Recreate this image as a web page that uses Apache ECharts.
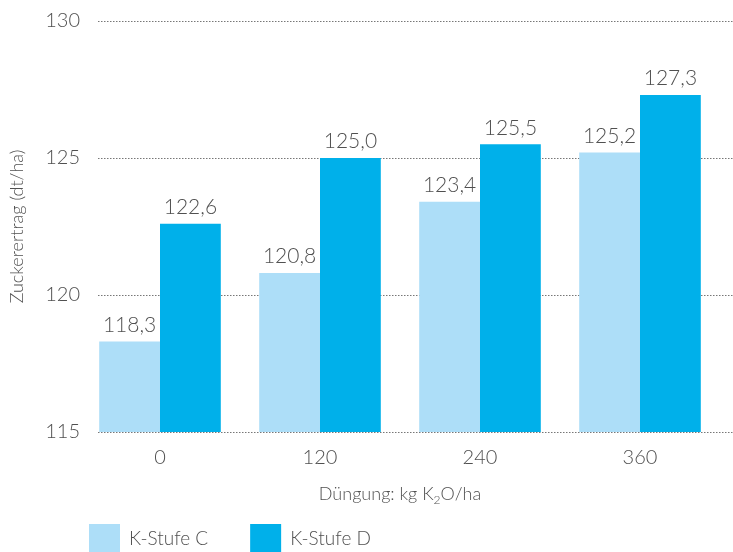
<!DOCTYPE html>
<html>
<head>
<meta charset="utf-8">
<script src="https://cdn.jsdelivr.net/npm/echarts@6/dist/echarts.min.js"></script>
<style>
  html, body { margin: 0; padding: 0; background: #fff; }
  #chart { width: 733px; height: 552px; }
</style>
</head>
<body>
<div id="chart"></div>
<script>
// Zuckerertrag nach K2O-Düngung und K-Stufe
const categories = ['0', '120', '240', '360'];
const stufeC = [118.3, 120.8, 123.4, 125.2];
const stufeD = [122.6, 125.0, 125.5, 127.3];
const seriesNames = ['K-Stufe C', 'K-Stufe D'];
const yTicks = [115, 120, 125, 130];

const FONT = 'Lato, "Open Sans", sans-serif';
const W = 300;
const TEXT = '#505050';

const fmt = v => v.toFixed(1).replace('.', ',');

const chart = echarts.init(document.getElementById('chart'));
chart.setOption({
  animation: false,
  textStyle: { fontFamily: FONT, color: TEXT, fontWeight: W },
  grid: [
    // grid 0 carries the value scale and the dotted guide lines
    { left: 91, right: 0, top: 21, bottom: 120 },
    // grid 1 carries the bars and category labels
    { left: 80, width: 640, top: 21, bottom: 120 }
  ],
  legend: {
    left: 89, top: 524, padding: 0,
    itemWidth: 31, itemHeight: 30, itemGap: 42,
    icon: 'rect',
    textStyle: { fontFamily: FONT, fontWeight: W, fontSize: 19, color: TEXT, padding: [2, 0, 0, 4] },
    data: seriesNames
  },
  xAxis: [
    { gridIndex: 0, type: 'category', data: categories, show: false },
    {
      gridIndex: 1, type: 'category', data: categories,
      axisLine: { show: false }, axisTick: { show: false },
      axisLabel: { fontFamily: FONT, fontWeight: W, fontSize: 20, color: TEXT, margin: 16 },
      name: 'Düngung: kg K{sub|2}O/ha',
      nameLocation: 'middle', nameGap: 50,
      nameTextStyle: {
        fontFamily: FONT, fontWeight: W, fontSize: 18, color: TEXT,
        rich: { sub: { fontFamily: FONT, fontWeight: W, fontSize: 12, color: TEXT, verticalAlign: 'bottom', padding: [12, 0, 0, 0] } }
      }
    }
  ],
  yAxis: [
    {
      gridIndex: 0, type: 'value', min: 115, max: 130, interval: 5,
      axisLine: { show: false }, axisTick: { show: false },
      axisLabel: { fontFamily: FONT, fontWeight: W, fontSize: 20, color: TEXT, margin: 18,
        customValues: yTicks },
      splitLine: { show: true, lineStyle: { color: '#777', width: 1, type: [1.5, 1.5] } },
      name: 'Zuckerertrag (dt/ha)',
      nameLocation: 'middle', nameGap: 72, nameRotate: 90,
      nameTextStyle: { fontFamily: FONT, fontWeight: W, fontSize: 18, color: TEXT }
    },
    { gridIndex: 1, type: 'value', min: 115, max: 130, interval: 5, show: false }
  ],
  series: [
    {
      name: seriesNames[0], type: 'bar', xAxisIndex: 1, yAxisIndex: 1,
      data: stufeC, barGap: '0%', barCategoryGap: '24%',
      itemStyle: { color: '#ADDEF8' },
      label: { show: true, position: 'top', distance: 6, formatter: p => fmt(p.value),
        fontFamily: FONT, fontWeight: W, fontSize: 21, color: TEXT }
    },
    {
      name: seriesNames[1], type: 'bar', xAxisIndex: 1, yAxisIndex: 1,
      data: stufeD, barGap: '0%', barCategoryGap: '24%',
      itemStyle: { color: '#00B0EA' },
      label: { show: true, position: 'top', distance: 6, formatter: p => fmt(p.value),
        fontFamily: FONT, fontWeight: W, fontSize: 21, color: TEXT }
    }
  ]
});
</script>
</body>
</html>
